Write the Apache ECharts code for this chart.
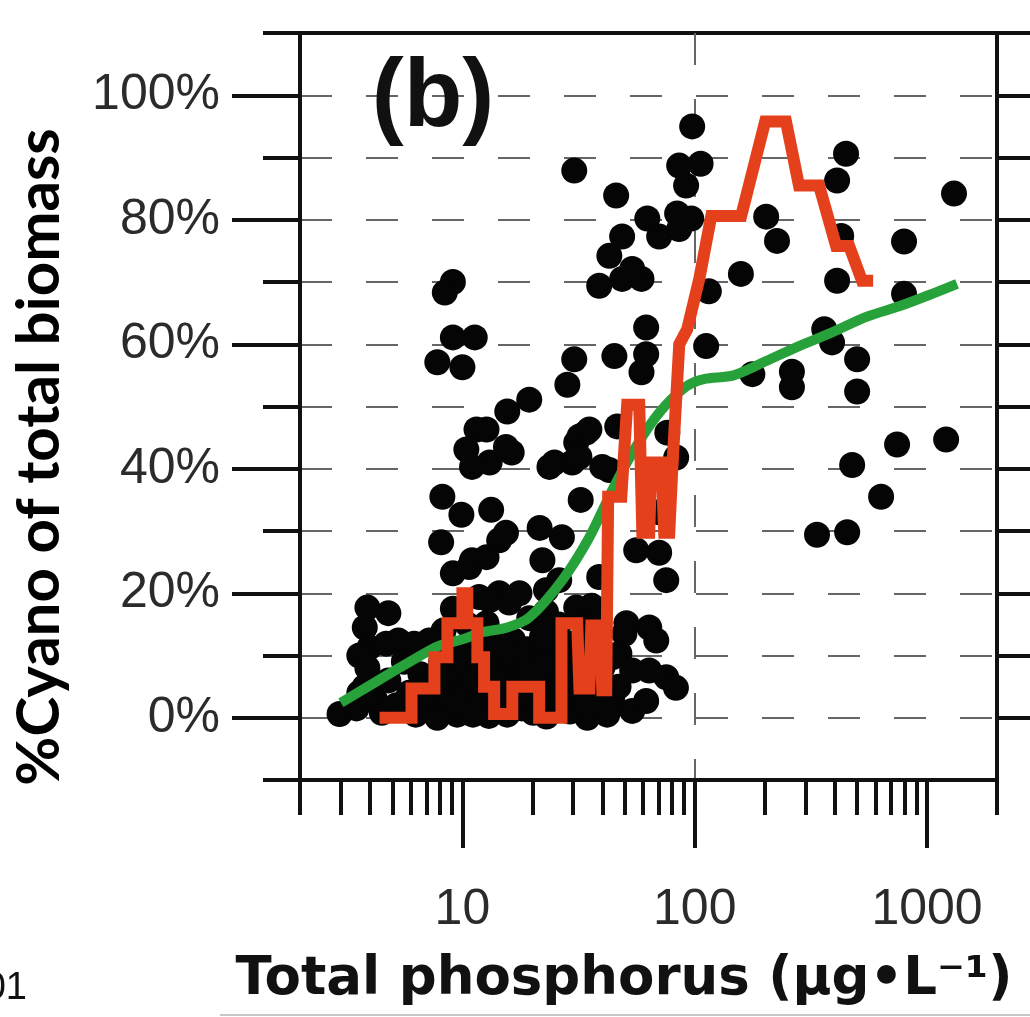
<!DOCTYPE html>
<html>
<head>
<meta charset="utf-8">
<title>%Cyano vs Total phosphorus</title>
<script src="https://cdn.jsdelivr.net/npm/echarts@6/dist/echarts.min.js"></script>
<style>
    html, body { margin: 0; padding: 0; background: #fff; }
    #demo { width: 1030px; height: 1017px; }
</style>
</head>
<body>
<div id="demo"></div>
<script>
/* =================================================== data start =================================================== */
/* ------------------------------------ lakes: [TP µg/L, %cyano] ------------------------------------ */
let lakePoints = [
    [97.5, 95], [30.3, 87.9], [45.9, 83.9], [85.7, 88.7], [106, 89], [91.8, 85.5], [448, 90.6], [410, 86.3], [1306, 84.2],
    [62.5, 80.2], [84, 81], [96.6, 80.2], [70.3, 77.3], [85.7, 78.5], [48.7, 77.3], [42.9, 74.2], [38.8, 69.4], [48.7, 70.5], [59, 70.5], [53.8, 72.1],
    [203, 80.5], [226, 76.6], [427, 77.4], [796, 76.5], [158, 71.3], [115, 68.5], [410, 70.2], [796, 68.1],
    [61.8, 62.7], [112, 59.7], [361, 62.4], [390, 60.3], [500, 57.6], [500, 52.4], [262, 55.6], [262, 53.1], [177, 55.2],
    [30.3, 57.6], [28.3, 53.5], [45.1, 58.1], [61.8, 58.4], [59, 55.5],
    [743, 43.9], [1208, 44.7], [476, 40.6], [634, 35.5], [336, 29.4], [453, 29.8],
    [9.1, 70], [8.4, 68.3], [9.1, 61.1], [11.3, 61.1], [7.8, 57.1], [10, 56.3],
    [19.4, 51.1], [15.6, 49.2], [11.5, 46.3], [12.7, 46.3], [10.4, 43.1], [16.3, 42.6], [13.1, 41], [11, 40.3], [15.4, 43.5],
    [34.1, 45.8], [30.9, 44.2], [24.9, 41], [29.7, 41], [31.9, 45.2], [31.9, 41.9], [35.2, 46.3], [23.7, 40.3], [42.9, 39.8], [40, 40.3],
    [46.4, 46.8], [76.2, 45.8], [83.2, 41.8],
    [8.2, 35.5], [9.9, 32.6], [13.3, 33.4], [8.1, 28.2], [14.4, 28.5], [11, 25.3], [9.1, 23.2], [10.7, 24.2], [15.4, 29.7], [12.7, 25.8],
    [32.3, 35], [26.8, 29], [22.1, 25.3], [26.1, 22.1], [38.8, 22.6], [22.9, 20.5], [70.3, 33], [21.5, 30.5],
    [56, 26.9], [70.3, 26.5], [75.4, 22.1],
    [11.8, 19.4], [14.4, 20], [17.6, 20], [13.1, 18.9], [15.9, 18.5], [12.7, 15.2], [30.9, 17.7], [22.9, 17], [19.4, 16], [26, 15], [33, 13], [36, 18],
    [50.8, 15.2], [63.7, 14.5], [68.3, 12.4], [49.8, 13.5], [47.4, 10.3], [44.2, 9.7],
    [3.9, 17.7], [4.8, 16.8], [3.8, 14.5], [3.98, 11.3], [4.7, 11.9], [5.3, 12.4], [6.2, 11.9], [7.2, 12.4], [9.1, 17.5], [10.5, 15],
    [8.3, 14], [11.5, 12.5], [13.7, 11], [16.5, 12.5], [19, 11], [22, 13], [24.5, 10.5], [28, 12], [30, 9], [34, 11], [38, 13.5],
    [2.96, 0.6], [3.5, 1.5], [3.6, 10], [3.6, 4], [3.8, 5], [3.9, 8], [4.2, 3], [4.5, 0.8], [4.8, 6], [5.2, 2], [5.6, 9], [5.9, 4],
    [6.3, 0.5], [6.6, 7], [6.9, 2.5], [7.4, 5.5], [7.8, 0], [8.1, 9], [8.6, 3], [9, 6.5], [9.5, 0.5], [9.9, 4], [10.3, 9],
    [10.8, 1.5], [11.3, 6], [11.9, 3], [12.4, 8.5], [13, 0.3], [13.6, 5], [14.2, 2.5], [14.9, 7.5], [15.6, 0.5], [16.3, 4],
    [17.2, 8], [18, 1.5], [18.9, 5.5], [19.8, 9], [20.8, 2.5], [21.9, 6], [23, 0.2], [24.2, 4], [25.5, 8], [26.8, 1.5],
    [28, 5.5], [29.5, 9.5], [31, 2.8], [32.5, 6.5], [34.5, 0], [36.2, 1.1], [38, 4.5], [40, 8], [44.2, 2.7], [42, 0.5],
    [47, 5], [53.8, 1.1], [53.8, 7.6], [61.8, 2.7], [63.7, 7.6], [75.4, 6.5], [83, 4.8],
    [10.2, 11], [12, 14], [14.6, 12], [17.5, 9.5], [20, 7], [23.5, 11], [26, 4], [29, 1], [32, 10], [35, 6], [37, 15.5],
    [9.7, 2], [11.1, 0.5], [13.2, 7], [15.4, 10.5], [17.8, 3.5], [20.2, 0.8], [22.6, 8.5], [27, 9], [30.5, 6], [33.5, 2.5],
    [39, 10.5], [41, 2.2]
];
/* ------------------------------------ smooth trend (green) ------------------------------------ */
let trendCurve = [
    [3.0, 2.4], [5.4, 8.1], [7.2, 10.8], [8.0, 11.6], [10, 12.6], [12.1, 13.7], [15.6, 14.5], [19.4, 16.1],
    [26.9, 22.1], [35.2, 29.0], [44.2, 36.6], [55.8, 43.5], [70.3, 49.0], [91.8, 53.2], [109.5, 54.4],
    [147, 55.0], [203, 57.3], [281, 59.7], [390, 61.9], [547, 64.4], [758, 66.1], [1052, 68.1], [1346, 69.7]
];
/* ------------------------------------ running median (red) ------------------------------------ */
let medianCurve = [
    [4.40, 0], [6.04, 0], [6.04, 4.7], [7.58, 4.7], [7.58, 9.7], [8.62, 9.7], [8.62, 15.2], [10.0, 15.2], [10.0, 20],
    [10.5, 20], [10.5, 15.2], [11.6, 15.2], [11.6, 9.7], [12.4, 9.7], [12.4, 5], [13.7, 5], [13.7, 0.6], [16.4, 0.6],
    [16.4, 5], [21.4, 5], [21.4, 0], [26.7, 0], [26.7, 15.2], [31.2, 15.2], [31.9, 4.7], [35.2, 4.7], [35.9, 14.8],
    [39.2, 14.8], [40.0, 4.4], [41.6, 4.4], [42.4, 35.5], [48.3, 35.5], [51.2, 50.3], [57.7, 50.3], [59.5, 29.7],
    [63.7, 29.7], [65.0, 41], [71.8, 41], [73.9, 29.7], [77.7, 29.7], [80.0, 39.8], [83.2, 51.1], [85.8, 60],
    [92.8, 62.4], [104.6, 70.5], [117.8, 80.6], [158.5, 80.6], [201, 95.8], [247, 95.8], [281, 85.5], [343, 85.5],
    [406, 75.8], [462, 75.8], [525, 70.2], [586, 70.2]
];
/* ------------------------------------ ticks ------------------------------------ */
let xMajorTicks = [10, 100, 1000];
let xMinorTicks = [2, 3, 4, 5, 6, 7, 8, 9, 20, 30, 40, 50, 60, 70, 80, 90, 200, 300, 400, 500, 600, 700, 800, 900, 2000];
let yLabelTicks = [0, 20, 40, 60, 80, 100];
let yRightTicks = [0, 10, 20, 30, 40, 50, 60, 70, 80, 90, 100, 110];
/* =================================================== data end =================================================== */


let ink = '#111';
let tickFont = 'Liberation Sans';

let optionCyano = function () {
    let stroke = {color: ink, width: 4};
    return {
        animation: false,
        backgroundColor: '#fff',
        grid: {
            left: 300, right: 33, top: 33, bottom: 237,
            show: true, borderColor: ink, borderWidth: 4            // frame of the panel
        },
        xAxis: [
            {
                /* 10 / 100 / 1000 : long ticks + labels + dashed verticals */
                type: 'log', logBase: 10, min: 2, max: 2000, position: 'bottom',
                axisLine: {show: true, onZero: false, lineStyle: stroke},
                axisTick: {show: true, customValues: xMajorTicks, length: 68, lineStyle: stroke},
                axisLabel: {
                    customValues: xMajorTicks, margin: 105,
                    fontSize: 50, fontFamily: tickFont, color: '#2b2b2b',
                    formatter: function (v) { return String(v); }
                },
                splitLine: {show: true, showMinLine: false, showMaxLine: false,
                    lineStyle: {color: '#666', width: 2, type: [32, 34]}}
            },
            {
                /* short ticks 2..9 of every decade */
                type: 'log', logBase: 10, min: 2, max: 2000, position: 'bottom', offset: 0,
                axisLine: {show: false, onZero: false},
                axisTick: {show: true, customValues: xMinorTicks, length: 35, lineStyle: stroke},
                axisLabel: {show: false},
                splitLine: {show: false}
            }
        ],
        yAxis: [
            {
                /* every 10% : short ticks + dashed horizontals */
                type: 'value', min: -10, max: 110, interval: 10, position: 'left',
                axisLine: {show: true, onZero: false, lineStyle: stroke},
                axisTick: {show: true, length: 37, lineStyle: stroke},
                axisLabel: {show: false},
                splitLine: {show: true, showMinLine: false, showMaxLine: false,
                    lineStyle: {color: '#666', width: 2, type: [32, 34]}}
            },
            {
                /* labelled 20% steps : long ticks */
                type: 'value', min: -10, max: 110, interval: 10, position: 'left', offset: 0,
                axisLine: {show: false, onZero: false},
                axisTick: {show: true, customValues: yLabelTicks, length: 68, lineStyle: stroke},
                axisLabel: {
                    customValues: yLabelTicks, margin: 80,
                    fontSize: 50, fontFamily: tickFont, color: '#2b2b2b',
                    formatter: '{value}%'
                },
                splitLine: {show: false}
            },
            {
                /* right side ticks pointing out */
                type: 'value', min: -10, max: 110, interval: 10, position: 'right',
                axisLine: {show: true, onZero: false, lineStyle: stroke},
                axisTick: {show: true, customValues: yRightTicks, length: 40, lineStyle: stroke},
                axisLabel: {show: false},
                splitLine: {show: false}
            }
        ],
        series: [
            {
                name: 'lakes', type: 'scatter',
                xAxisIndex: 0, yAxisIndex: 0,
                data: lakePoints,
                symbolSize: 26,
                itemStyle: {color: '#050505', opacity: 1},
                z: 2
            },
            {
                name: 'trend', type: 'line',
                xAxisIndex: 0, yAxisIndex: 0,
                data: trendCurve,
                symbol: 'none', smooth: 0.3,
                lineStyle: {color: '#27a23a', width: 10},
                z: 3
            },
            {
                name: 'median', type: 'line',
                xAxisIndex: 0, yAxisIndex: 0,
                data: medianCurve,
                symbol: 'none',
                lineStyle: {color: '#e5401c', width: 12, join: 'miter'},
                z: 4
            }
        ],
        graphic: [
            {
                type: 'text', x: 433, y: 100, z: 10,
                style: {text: '(b)', font: 'bold 96px "Liberation Sans"', fill: ink,
                    align: 'center', verticalAlign: 'middle', textAlign: 'center', textVerticalAlign: 'middle'}
            },
            {
                type: 'text', x: 40, y: 457, rotation: Math.PI / 2, z: 10,
                style: {text: '%Cyano of total biomass', font: 'bold 60px Lato', fill: '#000',
                    align: 'center', verticalAlign: 'middle', textAlign: 'center', textVerticalAlign: 'middle'}
            },
            {
                type: 'text', x: 624, y: 980, z: 10,
                style: {text: 'Total phosphorus (µg•L⁻¹)', font: 'bold 53px "DejaVu Sans"', fill: ink,
                    align: 'center', verticalAlign: 'middle', textAlign: 'center', textVerticalAlign: 'middle'}
            },
            {
                type: 'text', x: 27, y: 989, z: 10,
                style: {text: '01', font: '38px "Liberation Sans"', fill: ink,
                    align: 'right', verticalAlign: 'middle', textAlign: 'right', textVerticalAlign: 'middle'}
            },
            {
                type: 'line', z: 1,
                shape: {x1: 220, y1: 1015, x2: 1030, y2: 1015},
                style: {stroke: '#c8c8c8', lineWidth: 2}
            }
        ]
    };
};

let myChart = echarts.init(document.querySelector('#demo'));
myChart.setOption(optionCyano());
</script>
</body>
</html>
